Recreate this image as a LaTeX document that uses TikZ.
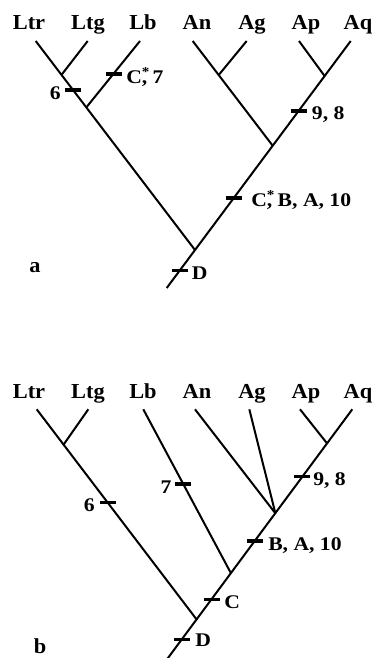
\documentclass[tikz,border=0pt]{standalone}
\usepackage{fontspec}
\setmainfont{Liberation Serif}
\newfontfamily\tipfont[FakeStretch=1.05]{Liberation Serif}
\newfontfamily\labfont[FakeStretch=1.12]{Liberation Serif}
\usetikzlibrary{calc}
\newcommand\tickat[1]{\draw[tickbar] ([xshift=-6pt]#1) -- ([xshift=6pt]#1);}
\newcommand\myast{\rlap{\textsuperscript{*}}}
\begin{document}
\begin{tikzpicture}[x=0.75pt,y=-0.75pt,
  br/.style={line width=1.5pt},
  tickbar/.style={line width=2.6pt},
  tip/.style={font=\tipfont\fontsize{16}{19}\selectfont\bfseries, inner sep=0, anchor=base},
  lab/.style={font=\labfont\fontsize{14.5}{17}\selectfont\bfseries, inner sep=0},
  panel/.style={font=\tipfont\fontsize{16}{19}\selectfont\bfseries, inner sep=0, anchor=base}]
\useasboundingbox (0,0) rectangle (378,658);
% ================= panel a =================
\node[tip] (aLtr) at (29,29.5) {Ltr};
\node[tip] (aLtg) at (88,29.5) {Ltg};
\node[tip] (aLb)  at (143,29.5) {Lb};
\node[tip] (aAn)  at (197,29.5) {An};
\node[tip] (aAg)  at (252,29.5) {Ag};
\node[tip] (aAp)  at (306,29.5) {Ap};
\node[tip] (aAq)  at (358,29.5) {Aq};
\coordinate (altr) at (35.7,41);
\coordinate (altg) at (87.7,41);
\coordinate (alb)  at (140,41);
\coordinate (aan)  at (192.7,41);
\coordinate (aag)  at (246.7,41);
\coordinate (aap)  at (299,41);
\coordinate (aaq)  at (350.7,41);
\coordinate (abot) at (166.7,288);
\coordinate (aroot) at (195,250);
\coordinate (aj1) at (61.4,75);
\coordinate (aj2) at (86.4,107.3);
\coordinate (aj3) at (272.7,145.7);
\coordinate (aj4) at (218.7,75);
\coordinate (aj5) at (324.6,76);
\draw[br] (altr) -- (aroot);
\draw[br] (altg) -- (aj1);
\draw[br] (alb) -- (aj2);
\draw[br] (abot) -- (aaq);
\draw[br] (aan) -- (aj3);
\draw[br] (aag) -- (aj4);
\draw[br] (aap) -- (aj5);
\coordinate (at6) at (72.8,90);
\coordinate (at7) at (113.8,74);
\coordinate (at98) at (298.6,111);
\coordinate (atc) at (234,198);
\coordinate (atd) at (180,270.7);
\tickat{at6} \tickat{at7} \tickat{at98} \tickat{atc} \tickat{atd}
\node[lab, anchor=base east] (al6) at (61,99) {6};
\node[lab, anchor=base west] (al7) at (126,83.3) {C\myast, 7};
\node[lab, anchor=base west] (al98) at (311.7,119) {9, 8};
\node[lab, anchor=base west] (alc) at (251,206.7) {C\myast, B, A, 10};
\node[lab, anchor=base west] (ald) at (191.7,279) {D};
\node[panel] (pa) at (35,272) {a};
% ================= panel b =================
\node[tip] (bLtr) at (29,398.3) {Ltr};
\node[tip] (bLtg) at (88,398.3) {Ltg};
\node[tip] (bLb)  at (143,398.3) {Lb};
\node[tip] (bAn)  at (197,398.3) {An};
\node[tip] (bAg)  at (252,398.3) {Ag};
\node[tip] (bAp)  at (306,398.3) {Ap};
\node[tip] (bAq)  at (358,398.3) {Aq};
\coordinate (bltr) at (36.7,409.3);
\coordinate (bltg) at (88.3,409.3);
\coordinate (blb)  at (143.3,409.3);
\coordinate (ban)  at (195,409.3);
\coordinate (bag)  at (249.3,409.3);
\coordinate (bap)  at (300,409.3);
\coordinate (baq)  at (352.3,409.3);
\coordinate (bbot) at (165,662);
\coordinate (broot) at (196.5,619.3);
\coordinate (bj1) at (63.3,445);
\coordinate (bj2) at (231,573.3);
\coordinate (bj3) at (275.4,513.3);
\coordinate (bj5) at (327,443.3);
\draw[br] (bltr) -- (broot);
\draw[br] (bltg) -- (bj1);
\draw[br] (blb) -- (bj2);
\draw[br] (bbot) -- (baq);
\draw[br] (ban) -- (bj3);
\draw[br] (bag) -- (bj3);
\draw[br] (bap) -- (bj5);
\coordinate (bt6) at (107.5,502.7);
\coordinate (bt7) at (182.8,484);
\coordinate (bt98) at (302.4,476.7);
\coordinate (btb) at (254.9,541);
\coordinate (btc) at (211.7,599.3);
\coordinate (btd) at (182.1,639.3);
\tickat{bt6} \tickat{bt7} \tickat{bt98} \tickat{btb} \tickat{btc} \tickat{btd}
\node[lab, anchor=base east] (bl6) at (95,511.7) {6};
\node[lab, anchor=base east] (bl7) at (171.7,493.3) {7};
\node[lab, anchor=base west] (bl98) at (313,485) {9, 8};
\node[lab, anchor=base west] (blb2) at (268,550) {B, A, 10};
\node[lab, anchor=base west] (blc) at (224,608.3) {C};
\node[lab, anchor=base west] (bld) at (195,646.7) {D};
\node[panel] (pb) at (40,653.5) {b};
\end{tikzpicture}
\end{document}
